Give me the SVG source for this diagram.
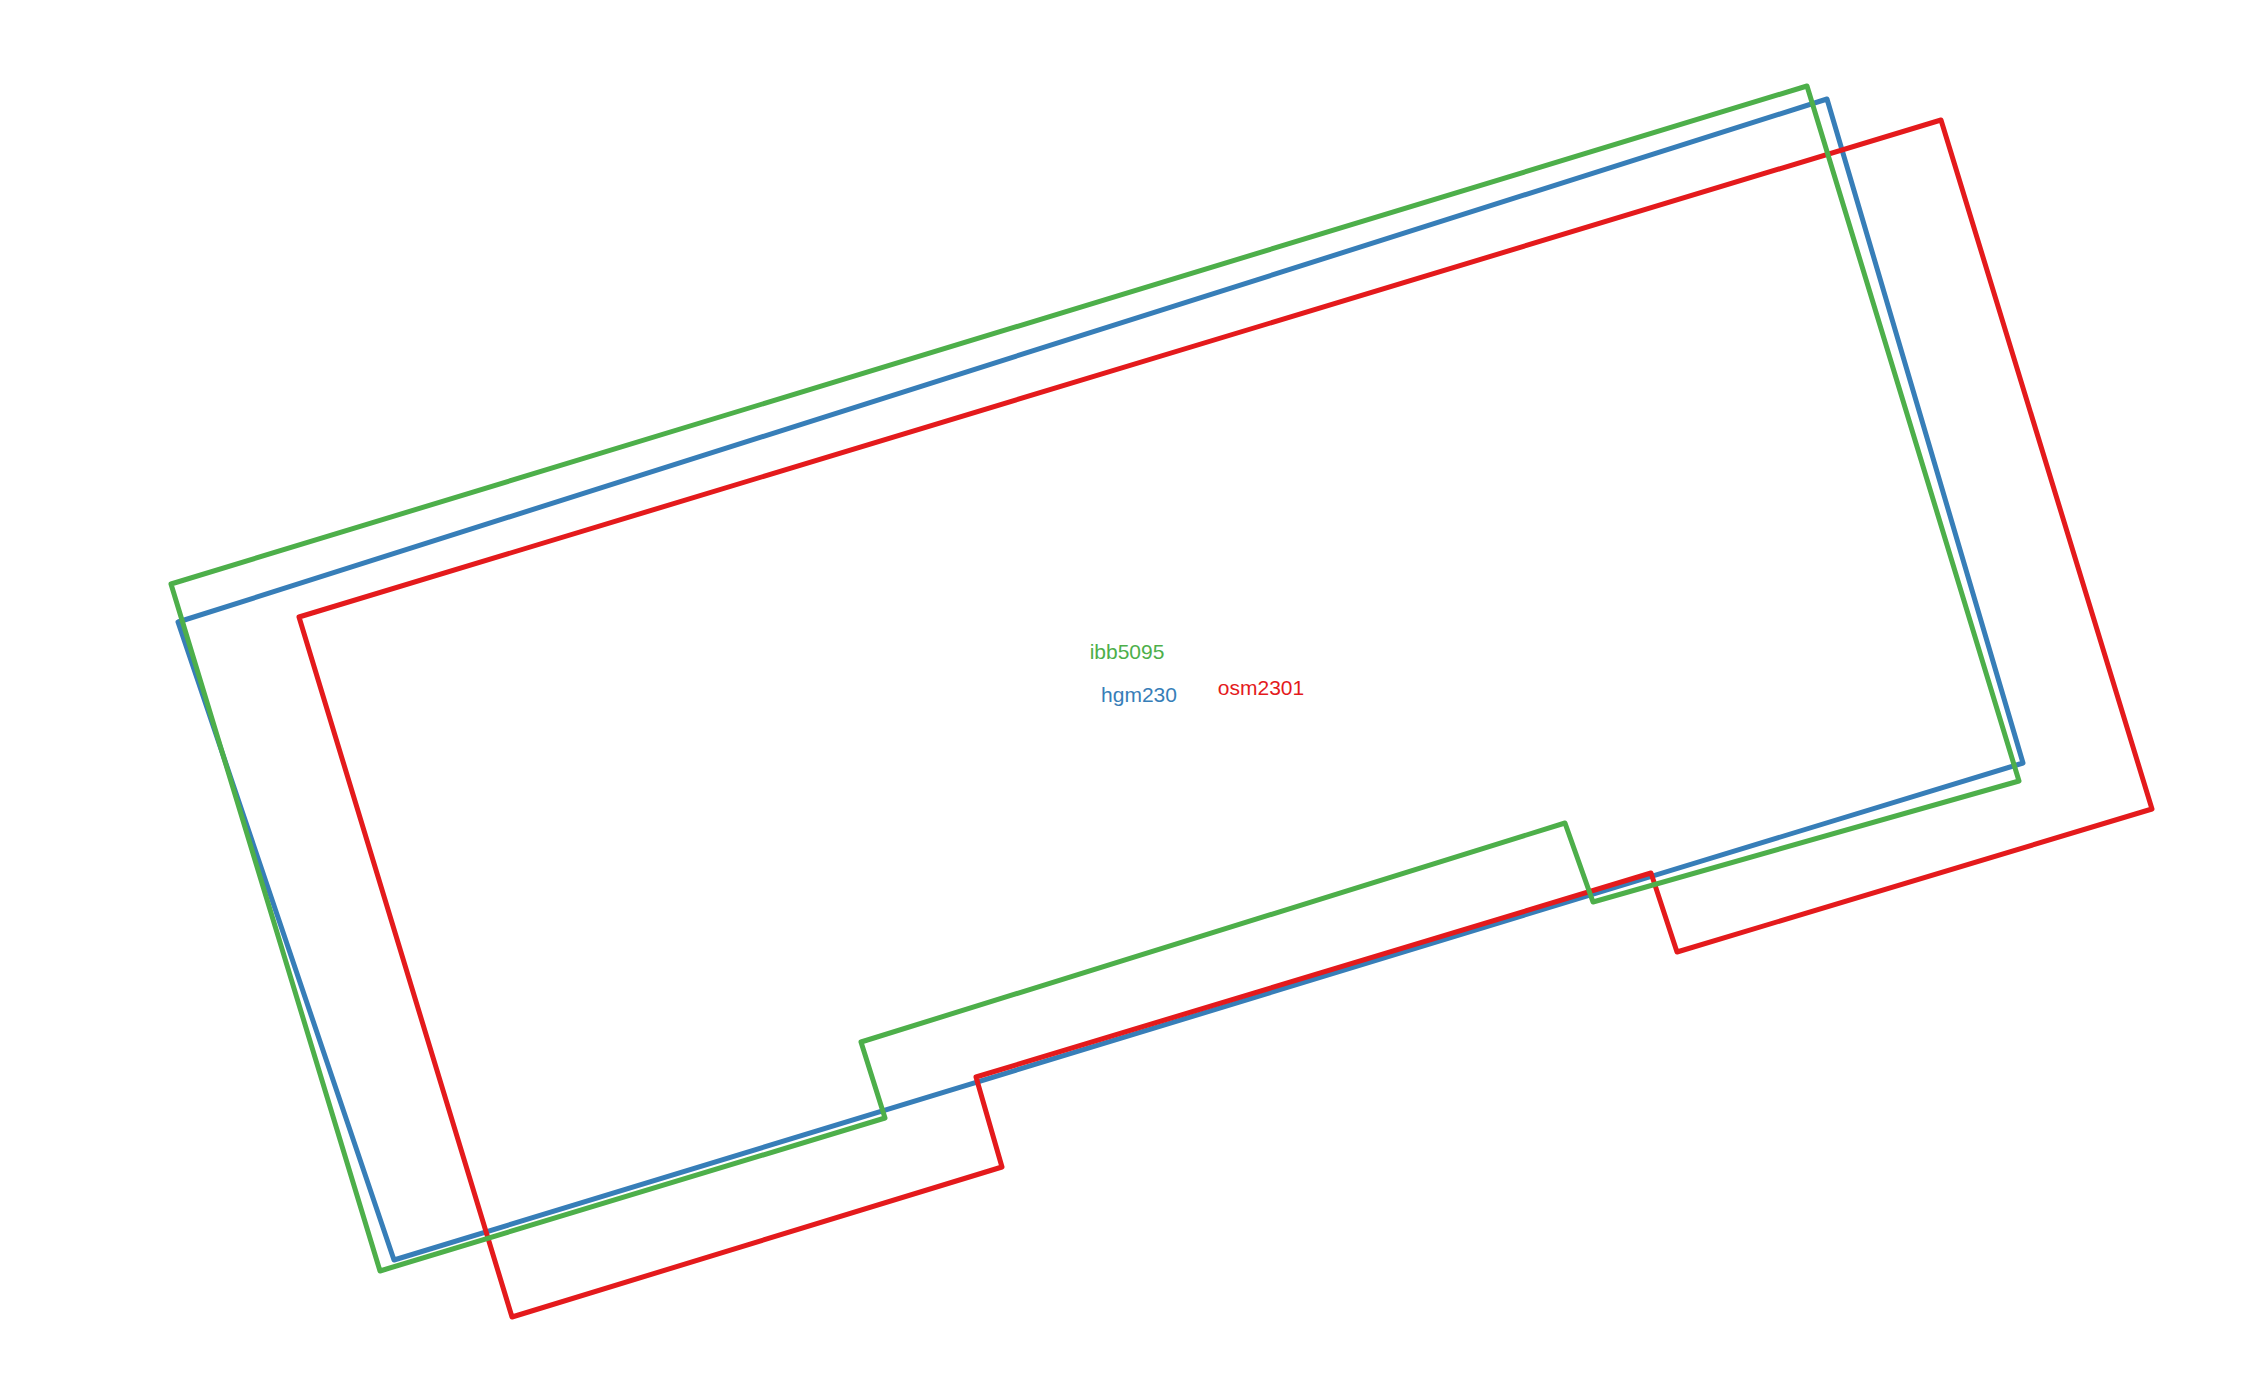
<svg xmlns="http://www.w3.org/2000/svg" width="2268" height="1398" viewBox="0 0 2268 1398">
<style>
.p{fill:none;stroke-width:5;stroke-linejoin:round;stroke-linecap:round}
.t{font-family:"Liberation Sans",Arial,sans-serif;font-size:21px;text-anchor:middle}
</style>
<rect width="2268" height="1398" fill="#ffffff"/>
<g id="hgm230">
<polygon class="p" stroke="#377eb8" points="178,622 1827,99 2023,763 394,1260"/>
</g>
<g id="osm2301">
<polygon class="p" stroke="#e41a1c" points="299,617 1941,120 2152,809 1677,952 1651,873 976,1077 1002,1167 512,1317"/>
</g>
<g id="ibb5095">
<polygon class="p" stroke="#4daf4a" points="171,584 1807,86 2019,781 1593,902 1565,823 861,1042 885,1118 380,1271"/>
</g>
<g id="labels">
<text class="t" x="1127" y="659" fill="#4daf4a">ibb5095</text>
<text class="t" x="1139" y="702" fill="#377eb8">hgm230</text>
<text class="t" x="1261" y="695" fill="#e41a1c">osm2301</text>
</g>
</svg>
